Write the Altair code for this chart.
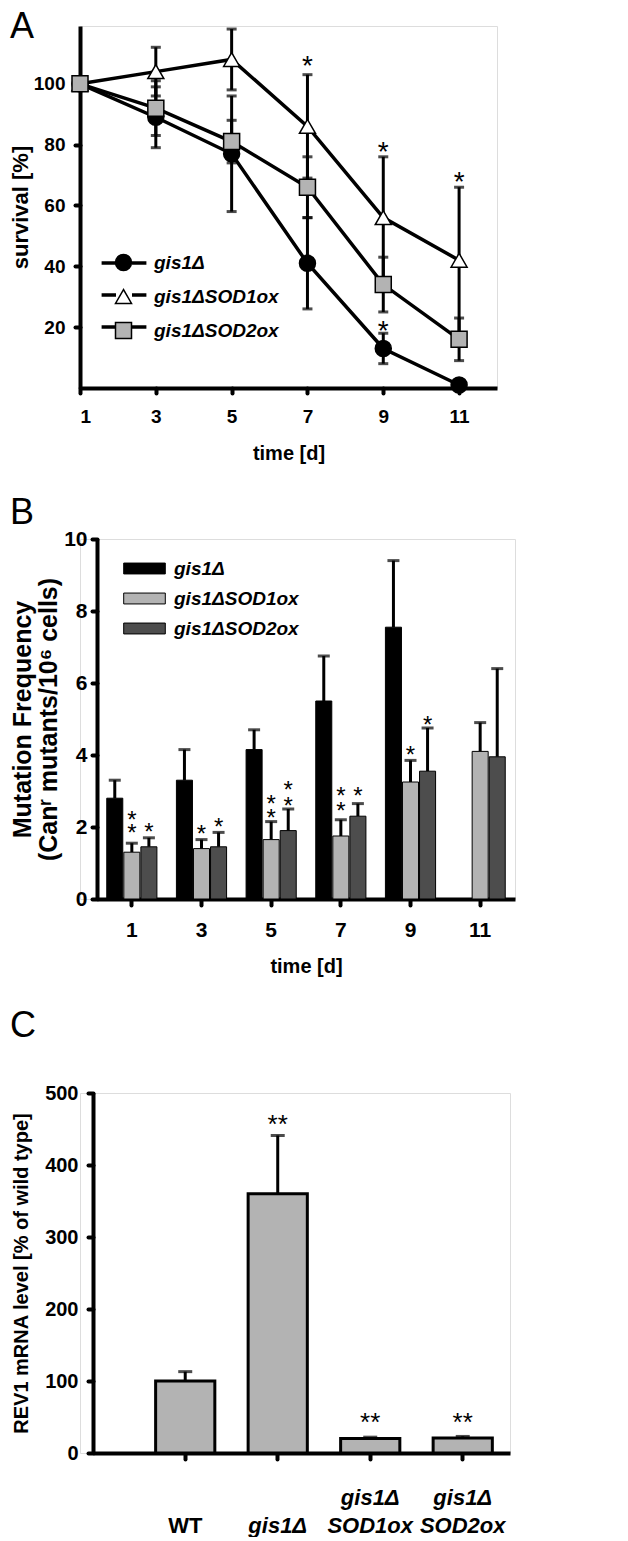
import altair as alt
import pandas as pd

FONT = "Liberation Sans"

# ---------------- Panel A : survival ----------------
days_a = [1, 3, 5, 7, 9, 11]
strains = ["gis1Δ", "gis1ΔSOD1ox", "gis1ΔSOD2ox"]
surv_gis1 = [100, 89, 77, 41, 13, 1]
surv_gis1_err = [0, 10, 19, 15, 5, 0]
surv_sod1 = [100, 104, 108, 86, 56, 42]
surv_sod1_err = [0, 8, 10, 17, 20, 24]
surv_sod2 = [100, 92, 81, 66, 34, 16]
surv_sod2_err = [0, 9, 7, 10, 9, 7]
star_a_day = [7, 9, 11, 9]
star_a_pos = [108, 80, 70, 21]

# ---------------- Panel B : mutation frequency ----------------
days_b = ["1", "3", "5", "7", "9", "11"]
mut_gis1 = [2.8, 3.3, 4.15, 5.5, 7.55, None]
mut_gis1_top = [3.3, 4.15, 4.7, 6.75, 9.4, None]
mut_sod1 = [1.3, 1.4, 1.65, 1.75, 3.25, 4.1]
mut_sod1_top = [1.55, 1.65, 2.15, 2.2, 3.85, 4.9]
mut_sod2 = [1.45, 1.45, 1.9, 2.3, 3.55, 3.95]
mut_sod2_top = [1.7, 1.85, 2.5, 2.65, 4.75, 6.4]
star_b_day = ["1", "1", "1", "3", "3", "5", "5", "5", "5", "7", "7", "7", "9", "9"]
star_b_strain = ["gis1ΔSOD1ox", "gis1ΔSOD1ox", "gis1ΔSOD2ox",
                 "gis1ΔSOD1ox", "gis1ΔSOD2ox",
                 "gis1ΔSOD1ox", "gis1ΔSOD1ox", "gis1ΔSOD2ox", "gis1ΔSOD2ox",
                 "gis1ΔSOD1ox", "gis1ΔSOD1ox", "gis1ΔSOD2ox",
                 "gis1ΔSOD1ox", "gis1ΔSOD2ox"]
star_b_pos = [2.37, 2.0, 2.03, 1.98, 2.17, 2.81, 2.42, 3.2, 2.75, 3.03, 2.61, 3.03, 4.17, 5.0]

# ---------------- Panel C : REV1 mRNA ----------------
groups_c = ["WT", "gis1Δ", "gis1Δ|SOD1ox", "gis1Δ|SOD2ox"]
rev1 = [100, 360, 20, 21]
rev1_top = [113, 441, 22, 23]
star_c_text = ["", "**", "**", "**"]
star_c_pos = [None, 465, 52, 52]

# ---------- tables ----------
rows = []
for s, vals, errs in zip(strains, [surv_gis1, surv_sod1, surv_sod2],
                         [surv_gis1_err, surv_sod1_err, surv_sod2_err]):
    for d, v, e in zip(days_a, vals, errs):
        rows.append(dict(day=d, strain=s, lkey=s + " ", value=v, lo=v - e, hi=v + e, err=e))
df_a = pd.DataFrame(rows)
df_a_star = pd.DataFrame(dict(day=star_a_day, pos=star_a_pos))

rows = []
for s, vals, tops in zip(strains, [mut_gis1, mut_sod1, mut_sod2],
                         [mut_gis1_top, mut_sod1_top, mut_sod2_top]):
    for d, v, t in zip(days_b, vals, tops):
        rows.append(dict(day=d, strain=s, value=v, top=t))
df_b = pd.DataFrame(rows)
df_b_star = pd.DataFrame(dict(day=star_b_day, strain=star_b_strain, pos=star_b_pos))

df_c = pd.DataFrame(dict(group=groups_c, value=rev1, top=rev1_top,
                         star=star_c_text, pos=star_c_pos))


def axis(**kw):
    base = dict(domainColor="black", domainWidth=4, tickColor="black", tickWidth=4,
                tickSize=5, tickCap="round", labelColor="black", labelFont=FONT,
                labelFontWeight="bold", titleFont=FONT, titleFontWeight="bold",
                titleColor="black", grid=False)
    base.update(kw)
    return alt.Axis(**base)


def letter(t, dy):
    return alt.TitleParams(t, orient="none", anchor="start", frame="group", dx=-70, dy=dy,
                           fontSize=36, fontWeight="normal", font=FONT, color="black",
                           baseline="alphabetic", offset=0)


# ================= Panel A =================
sx_a = alt.Scale(domain=[1, 12], nice=False, zero=False)
sy_a = alt.Scale(domain=[0, 119], nice=False)
ax_xa = axis(values=days_a, title="time [d]", format="d", labelFontSize=19,
             labelPadding=14, titleFontSize=20, titlePadding=17)
ax_ya = axis(values=[20, 40, 60, 80, 100], title="survival [%]", labelFontSize=19,
             labelPadding=10, titleFontSize=22, titlePadding=1)


def xa():
    return alt.X("day:Q", scale=sx_a, axis=ax_xa)


def ya(f):
    return alt.Y(f"{f}:Q", scale=sy_a, axis=ax_ya)


leg_common = dict(orient="none", title=None, labelFontSize=19, labelFont=FONT,
                  labelColor="black", labelFontWeight="bold", labelFontStyle="italic",
                  padding=0)

base_a = alt.Chart(df_a)
err_a = base_a.transform_filter("datum.err > 0").mark_rule(
    color="black", strokeWidth=3).encode(x=xa(), y=ya("lo"), y2="hi:Q")
cap_a = base_a.transform_filter("datum.err > 0").transform_fold(
    ["lo", "hi"], as_=["end", "cap"]).mark_tick(
    orient="horizontal", color="black", size=10, thickness=3).encode(x=xa(), y=ya("cap"))
line_a = base_a.mark_line(strokeWidth=3.5).encode(
    x=xa(), y=ya("value"),
    color=alt.Color("lkey:N", sort=[s + " " for s in strains],
                    scale=alt.Scale(range=["black", "black", "black"]),
                    legend=alt.Legend(legendX=34, legendY=227,
                                      symbolType="M-2.8,0H-1M1,0H2.8", symbolSize=256,
                                      symbolStrokeWidth=3.5, symbolStrokeColor="black",
                                      labelOpacity=0, rowPadding=12, labelOffset=21,
                                      **leg_common)))
leg_a = alt.Legend(legendX=34, legendY=227, symbolStrokeWidth=1.5, symbolSize=256,
                   rowPadding=12, labelOffset=21, **leg_common)
pts_a = base_a.mark_point(filled=True, size=256, strokeWidth=1.5, opacity=1).encode(
    x=xa(), y=ya("value"),
    fill=alt.Fill("strain:N", sort=strains,
                  scale=alt.Scale(domain=strains, range=["black", "white", "#b3b3b3"]),
                  legend=leg_a),
    stroke=alt.Stroke("strain:N", sort=strains,
                      scale=alt.Scale(domain=strains, range=["black", "black", "black"]),
                      legend=leg_a),
    shape=alt.Shape("strain:N", sort=strains,
                    scale=alt.Scale(domain=strains, range=["circle", "triangle-up", "square"]),
                    legend=leg_a))
star_a = alt.Chart(df_a_star).mark_text(
    text="*", font=FONT, fontSize=28, color="black", baseline="alphabetic", dy=16).encode(
    x=xa(), y=ya("pos"))

chart_a = alt.layer(err_a, cap_a, line_a, pts_a, star_a).properties(
    width=417, height=362, title=letter("A", 12))

# ================= Panel B =================
# plot origin shared with panel A; the axis is shifted 17 px to the right
sx_b = alt.Scale(domain=days_b, paddingInner=0.28, paddingOuter=0.14, range=[17, 435])
so_b = alt.Scale(domain=strains, paddingInner=0.06)
sy_b = alt.Scale(domain=[0, 10], nice=False)
ax_xb = axis(title="time [d]", labelAngle=0, labelFontSize=21, labelPadding=14,
             titleFontSize=20, titlePadding=16, tickSize=6)
ax_yb = axis(values=[0, 2, 4, 6, 8, 10], offset=-17,
             title=["Mutation Frequency", "(Canʳ mutants/10⁶ cells)"],
             labelFontSize=21, labelPadding=5, titleFontSize=25, titlePadding=2,
             titleLineHeight=26)


def xb():
    return alt.X("day:N", sort=days_b, scale=sx_b, axis=ax_xb)


def ob():
    return alt.XOffset("strain:N", sort=strains, scale=so_b)


def yb(f):
    return alt.Y(f"{f}:Q", scale=sy_b, axis=ax_yb)


base_b = alt.Chart(df_b)
bars_b = base_b.mark_bar(stroke="black", strokeWidth=1).encode(
    x=xb(), xOffset=ob(), y=yb("value"),
    fill=alt.Fill("strain:N", sort=strains,
                  scale=alt.Scale(domain=strains, range=["black", "#b3b3b3", "#4d4d4d"]),
                  legend=alt.Legend(legendX=55, legendY=20,
                                    symbolType="M-2.6,-0.68H2.6V0.68H-2.6Z", symbolSize=256,
                                    symbolStrokeColor="black", symbolStrokeWidth=1,
                                    rowPadding=10, labelOffset=20, **leg_common)))
err_b = base_b.mark_rule(color="black", strokeWidth=3).encode(
    x=xb(), xOffset=ob(), y=yb("value"), y2="top:Q")
cap_b = base_b.mark_tick(orient="horizontal", color="black", size=12, thickness=3).encode(
    x=xb(), xOffset=ob(), y=yb("top"))
star_b = alt.Chart(df_b_star).mark_text(
    text="*", font=FONT, fontSize=24, color="black", baseline="alphabetic", dy=14).encode(
    x=xb(), xOffset=ob(), y=yb("pos"))

chart_b = alt.layer(err_b, bars_b, cap_b, star_b).properties(
    width=435, height=360, title=letter("B", -15))

# ================= Panel C =================
sx_c = alt.Scale(domain=groups_c, paddingInner=0.36, paddingOuter=0.434, align=0.78,
                 range=[13, 430])
sy_c = alt.Scale(domain=[0, 500], nice=False)
ax_xc = axis(title=None, labelAngle=0, labelFontSize=22, labelPadding=28, tickSize=6,
             labelExpr="indexof(datum.label, '|') < 0 ? ['', datum.label] : split(datum.label, '|')",
             labelBaseline="top", labelLineHeight=28,
             labelFontStyle={"condition": {"test": "datum.value == 'WT'", "value": "normal"},
                             "value": "italic"})
ax_yc = axis(values=[0, 100, 200, 300, 400, 500], offset=-13,
             title="REV1 mRNA level [% of wild type]",
             labelFontSize=20, labelPadding=10, titleFontSize=20, titlePadding=13)


def xc():
    return alt.X("group:N", sort=groups_c, scale=sx_c, axis=ax_xc)


def yc(f):
    return alt.Y(f"{f}:Q", scale=sy_c, axis=ax_yc)


base_c = alt.Chart(df_c)
err_c = base_c.mark_rule(color="black", strokeWidth=3).encode(
    x=xc(), y=yc("value"), y2="top:Q")
bars_c = base_c.mark_bar(fill="#b3b3b3", stroke="black", strokeWidth=3).encode(
    x=xc(), y=yc("value"))
cap_c = base_c.mark_tick(orient="horizontal", color="black", size=14, thickness=3).encode(
    x=xc(), y=yc("top"))
star_c = base_c.transform_filter("datum.pos != null").mark_text(
    font=FONT, fontSize=26, color="black", baseline="alphabetic", dy=15).encode(
    x=xc(), y=yc("pos"), text="star:N")

chart_c = alt.layer(err_c, bars_c, cap_c, star_c).properties(
    width=430, height=360, title=letter("C", -56))

chart = alt.vconcat(chart_a, chart_b, chart_c, spacing=30).resolve_scale(
    fill="independent", color="independent", shape="independent",
    stroke="independent").resolve_legend(
    fill="independent", color="independent", shape="independent",
    stroke="independent").properties(
    padding={"left": 0, "top": 0, "right": 0, "bottom": 0},
    background="white").configure_view(stroke=None).configure(font=FONT)

chart.save("out.html", embed_options={"renderer": "svg", "actions": False})
